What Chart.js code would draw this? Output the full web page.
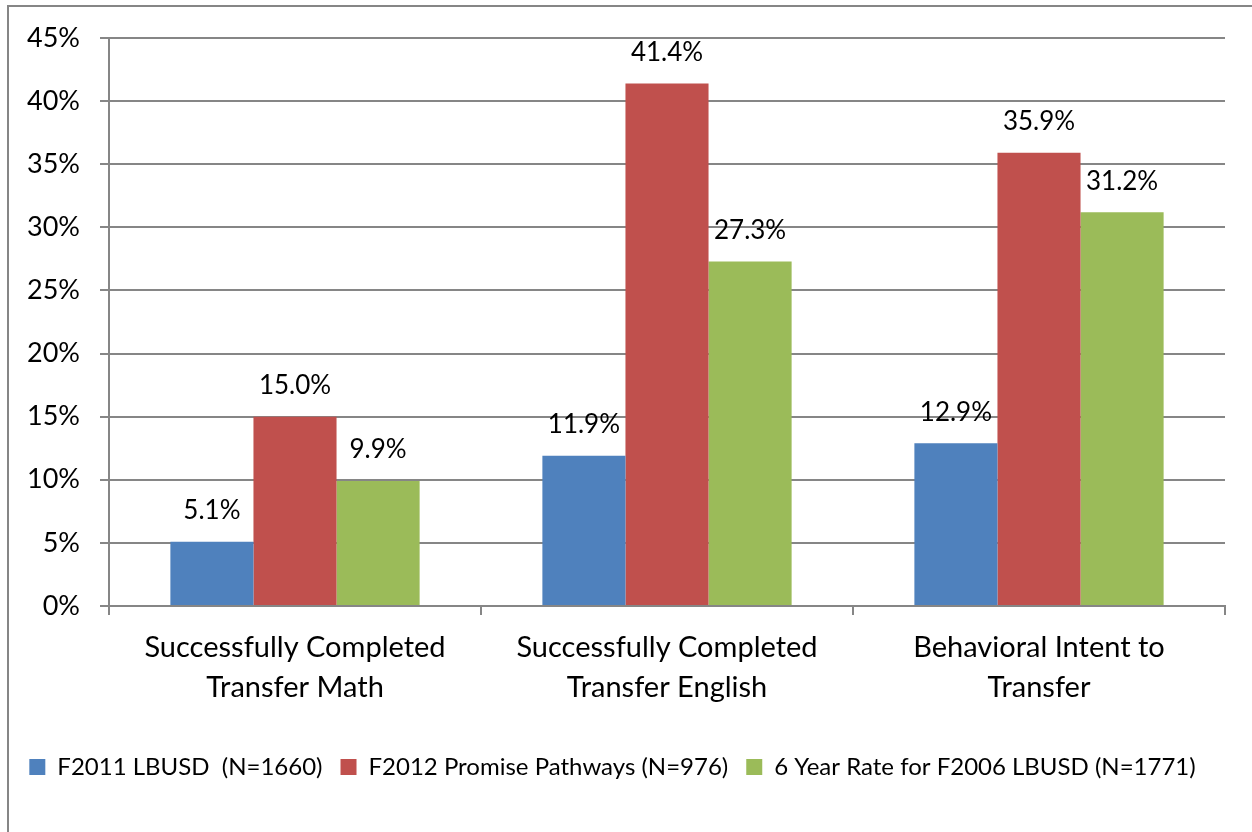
<!DOCTYPE html>
<html>
<head>
<meta charset="utf-8">
<script src="https://cdn.jsdelivr.net/npm/chart.js@4.4.1/dist/chart.umd.min.js"></script>
<style>
  body { margin: 0; background: #fff; }
  #wrap { width: 1252px; height: 832px; }
</style>
</head>
<body>
<div id="wrap"><canvas id="transfer"></canvas></div>
<script>
const categories = [
  ['Successfully Completed', 'Transfer Math'],
  ['Successfully Completed', 'Transfer English'],
  ['Behavioral Intent to', 'Transfer']
];
const seriesNames = [
  'F2011 LBUSD  (N=1660)',
  'F2012 Promise Pathways (N=976)',
  '6 Year Rate for F2006 LBUSD (N=1771)'
];
const lbusd2011 = [5.1, 11.9, 12.9];
const promise2012 = [15.0, 41.4, 35.9];
const sixYear2006 = [9.9, 27.3, 31.2];
const yTicks = [0, 5, 10, 15, 20, 25, 30, 35, 40, 45];

const colors = ['#4F81BD', '#C0504D', '#9BBB59'];
const gridGray = '#868686';
const FONT = 'Lato';

// value labels above each bar
const barLabels = {
  id: 'barLabels',
  afterDatasetsDraw(chart) {
    const ctx = chart.ctx;
    ctx.save();
    ctx.font = '26px ' + FONT;
    ctx.fillStyle = '#000';
    ctx.textAlign = 'center';
    ctx.textBaseline = 'middle';
    chart.data.datasets.forEach((ds, i) => {
      chart.getDatasetMeta(i).data.forEach((bar, j) => {
        ctx.fillText(ds.data[j].toFixed(1) + '%', bar.x, bar.y - 31);
      });
    });
    ctx.restore();
  }
};

// thin frame around the whole chart
const frame = {
  id: 'frame',
  beforeDraw(chart) {
    const ctx = chart.ctx;
    ctx.save();
    ctx.strokeStyle = gridGray;
    ctx.lineWidth = 2;
    ctx.strokeRect(8, 6, chart.width + 20, chart.height + 20);
    ctx.restore();
  }
};

Chart.defaults.font.family = FONT;
Chart.defaults.color = '#000';

new Chart(document.getElementById('transfer'), {
  type: 'bar',
  data: {
    labels: categories,
    datasets: [
      { label: seriesNames[0], data: lbusd2011, backgroundColor: colors[0] },
      { label: seriesNames[1], data: promise2012, backgroundColor: colors[1] },
      { label: seriesNames[2], data: sixYear2006, backgroundColor: colors[2] }
    ]
  },
  options: {
    responsive: true,
    maintainAspectRatio: false,
    animation: false,
    datasets: {
      bar: { categoryPercentage: 0.67, barPercentage: 1.0 }
    },
    layout: { padding: { top: 38, right: 27, left: 0, bottom: 43 } },
    plugins: {
      tooltip: { enabled: false },
      legend: {
        position: 'bottom',
        labels: {
          font: { size: 24 },
          boxWidth: 16,
          boxHeight: 16,
          padding: 18,
          color: '#000'
        }
      }
    },
    scales: {
      x: {
        grid: {
          offset: true,
          drawOnChartArea: false,
          drawTicks: true,
          tickLength: 9,
          color: gridGray,
          lineWidth: 2
        },
        border: { color: gridGray, width: 2 },
        ticks: { font: { size: 29, lineHeight: 1.4 }, padding: 12, maxRotation: 0 },
        afterFit(scale) { scale.height = 131; }
      },
      y: {
        min: 0,
        max: 45,
        afterBuildTicks(scale) { scale.ticks = yTicks.map(v => ({ value: v })); },
        grid: {
          color: gridGray,
          lineWidth: 2,
          tickLength: 9
        },
        border: { color: gridGray, width: 2 },
        ticks: {
          font: { size: 27 },
          padding: 20,
          callback: v => v + '%'
        },
        afterFit(scale) { scale.width = 109; }
      }
    }
  },
  plugins: [frame, barLabels]
});
</script>
</body>
</html>
